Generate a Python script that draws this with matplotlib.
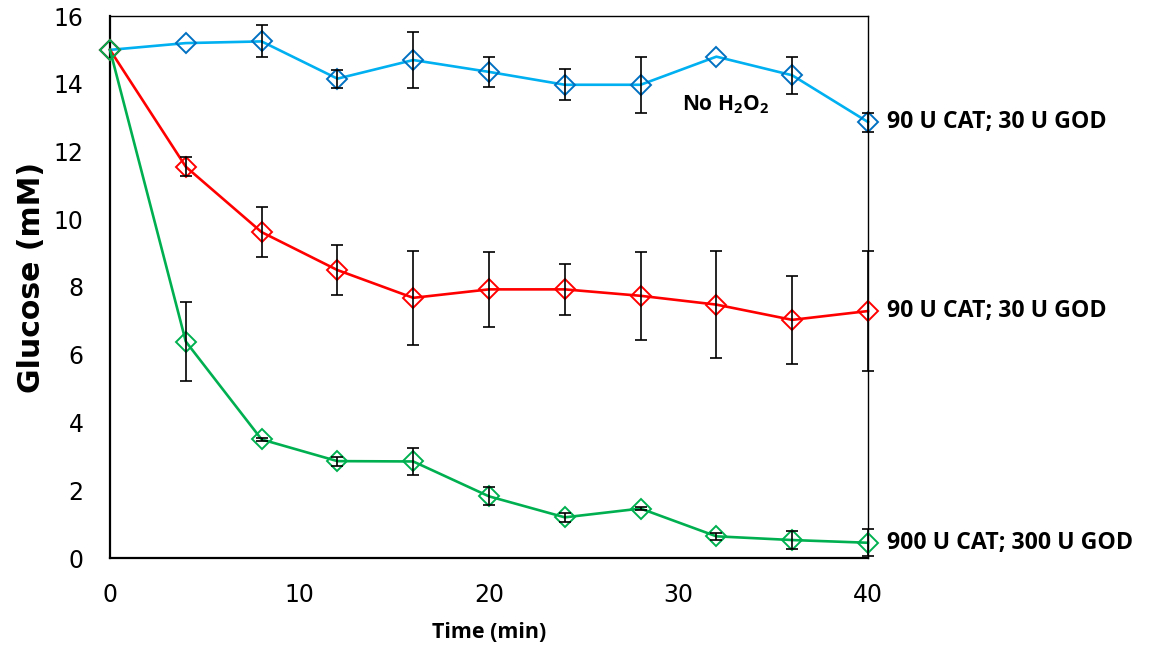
import matplotlib
matplotlib.use("Agg")
import matplotlib.pyplot as plt
import numpy as np

time_min = [0, 4, 8, 12, 16, 20, 24, 28, 32, 36, 40]

blue_vals = [15.0, 15.2, 15.25, 14.15, 14.7, 14.35, 13.97, 13.97, 14.8, 14.25, 12.87]
blue_err = [0.0, 0.0, 0.47, 0.27, 0.83, 0.45, 0.46, 0.83, 0.0, 0.55, 0.28]

red_vals = [15.0, 11.55, 9.62, 8.5, 7.68, 7.93, 7.93, 7.74, 7.48, 7.03, 7.29]
red_err = [0.0, 0.28, 0.74, 0.74, 1.38, 1.1, 0.75, 1.29, 1.57, 1.29, 1.76]

green_vals = [15.0, 6.39, 3.5, 2.86, 2.85, 1.82, 1.2, 1.46, 0.64, 0.53, 0.45]
green_err = [0.0, 1.16, 0.04, 0.13, 0.4, 0.27, 0.13, 0.05, 0.1, 0.27, 0.4]

labels = ["90 U CAT; 30 U GOD", "90 U CAT; 30 U GOD", "900 U CAT; 300 U GOD"]
yticks = [0, 2, 4, 6, 8, 10, 12, 14, 16]
xticks = [0, 10, 20, 30, 40]

series = [
    (blue_vals, blue_err, "#00B0F0", "#0070C0"),
    (red_vals, red_err, "#FF0000", "#FF0000"),
    (green_vals, green_err, "#00B050", "#00B050"),
]

ANN_FONT = dict(family="Open Sans", weight="bold", stretch="normal")

fig = plt.figure(figsize=(11.55, 6.48), dpi=100)
ax = fig.add_axes([110/1155, 1-558/648, (868-110)/1155, (558-16)/648])

for i, (vals, err, lc, mc) in enumerate(series):
    ax.plot(time_min, vals, color=lc, lw=1.9, zorder=2+i,
            marker="D", markersize=10.5, markerfacecolor="none",
            markeredgecolor=mc, markeredgewidth=1.4, clip_on=False)
    t = np.array(time_min, dtype=float)
    v = np.array(vals, dtype=float)
    e = np.array(err, dtype=float)
    m = e > 0
    ax.errorbar(t[m], v[m], yerr=e[m], fmt="none", ecolor="black",
                elinewidth=1.2, capsize=4.5, capthick=1.2, zorder=6, clip_on=False)

ax.set_xlim(0, 40)
ax.set_ylim(0, 16)
ax.set_xticks(xticks)
ax.set_yticks(yticks)
ax.tick_params(axis="both", length=0, labelsize=17, colors="black")
ax.tick_params(axis="y", pad=19)
ax.tick_params(axis="x", pad=18)
for lab in ax.get_xticklabels() + ax.get_yticklabels():
    lab.set_family("DejaVu Sans")

for s in ["left", "bottom"]:
    ax.spines[s].set_linewidth(1.6)
for s in ["top", "right"]:
    ax.spines[s].set_linewidth(1.0)

ax.set_ylabel("Glucose (mM)", fontsize=21.5, fontweight="bold", family="DejaVu Sans")
ax.yaxis.set_label_coords(-0.085, 0.5175)
ax.set_xlabel("Time (min)", fontsize=15.5, **ANN_FONT)
ax.xaxis.set_label_coords(0.5, (558-622)/542)

label_y = [blue_vals[-1], red_vals[-1], green_vals[-1]]
for txt, yv in zip(labels, label_y):
    ax.text(41.0, yv, txt, ha="left", va="center", fontsize=16.7,
            clip_on=False, **ANN_FONT)

ax.text(30.2, 13.37, r"No H$_\mathregular{2}$O$_\mathregular{2}$", ha="left", va="center", fontsize=15,
        **ANN_FONT)

fig.savefig("out.png", dpi=100)
